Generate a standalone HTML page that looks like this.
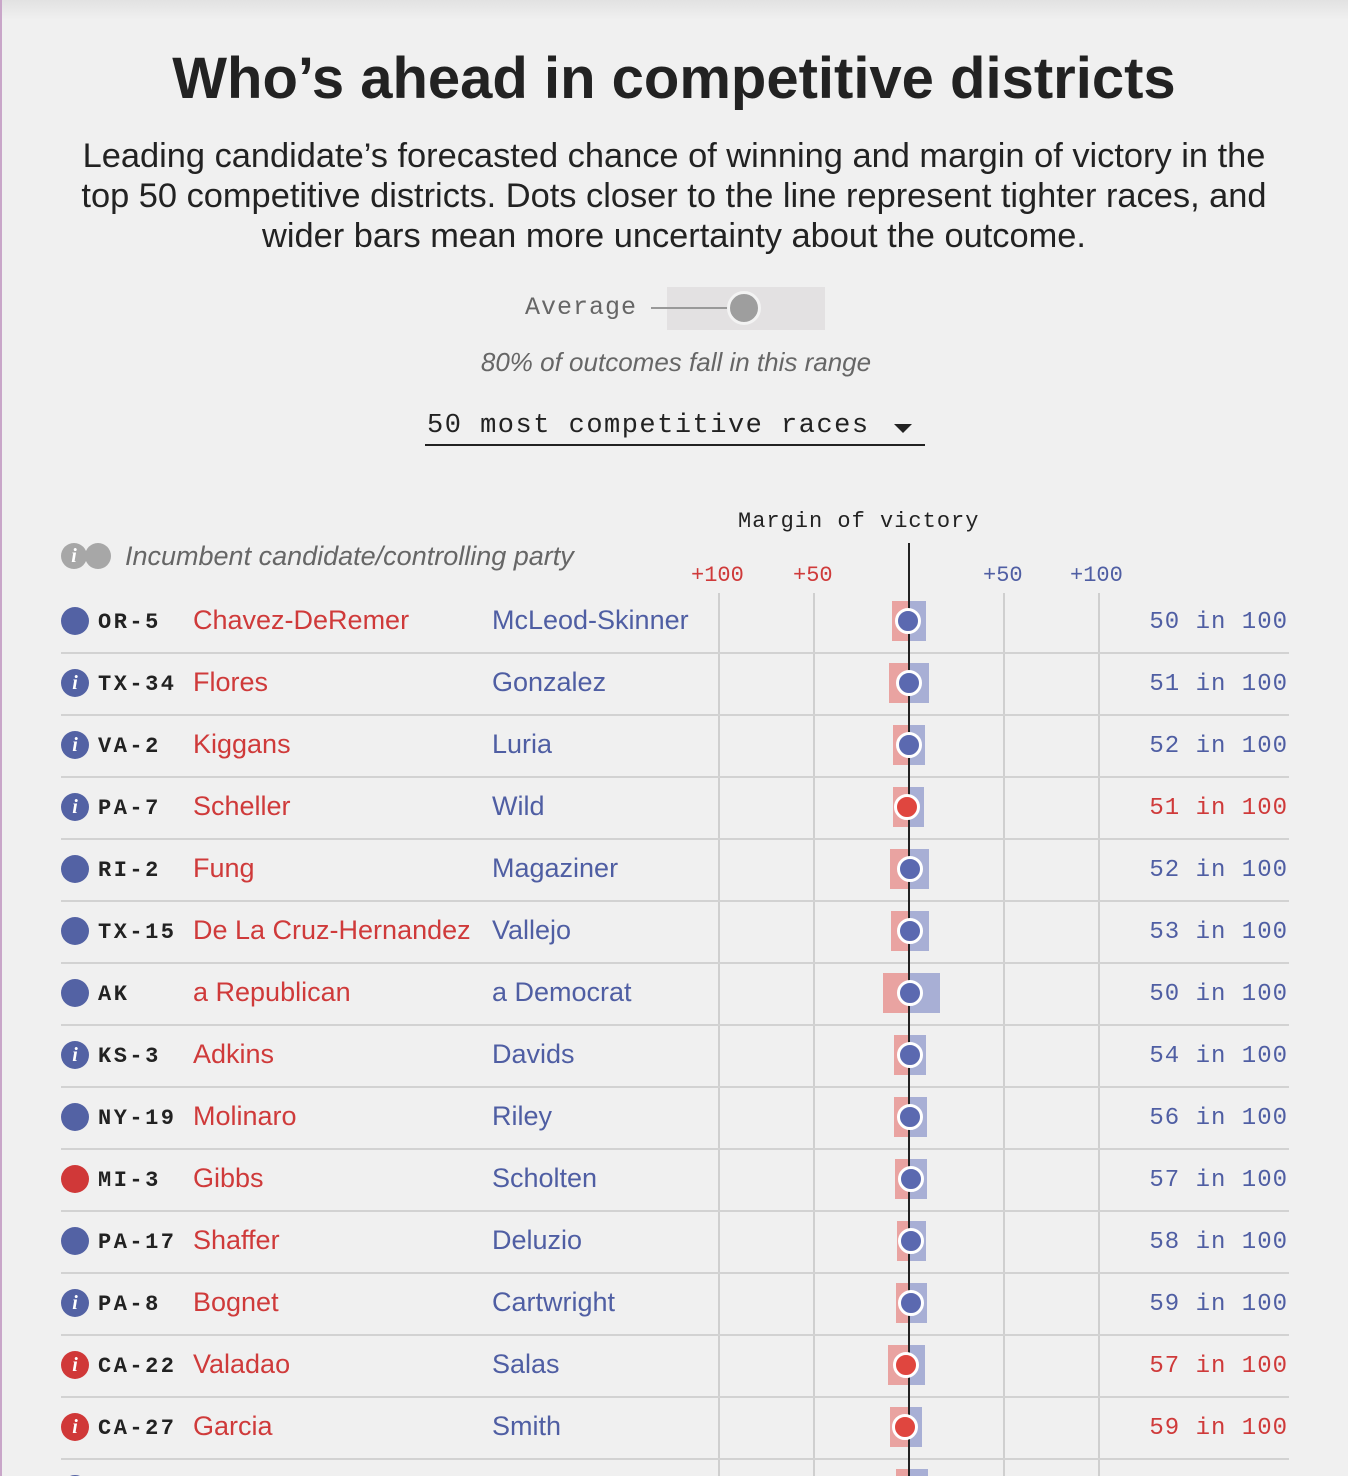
<!DOCTYPE html>
<html style="overflow:hidden;height:1476px"><head><meta charset="utf-8"><style>
body{margin:0;width:1348px;height:1476px;background:#f0f0f0;overflow:hidden;position:relative;font-family:"Liberation Sans",sans-serif}
.a{position:absolute;white-space:nowrap}
.mono{font-family:"Liberation Mono",monospace}
.d{font-family:"Liberation Mono",monospace;font-weight:bold;font-size:22px;color:#222;letter-spacing:2.5px}
.r{color:#cf3a3a;font-size:27px}
.b{color:#4f5ea3;font-size:27px}
.ic{position:absolute;width:28px;height:28px;border-radius:50%;color:#fff;font-style:italic;font-weight:bold;font-size:20px;text-align:center;line-height:28px;font-family:"Liberation Serif",serif}
.sep{position:absolute;left:61px;width:1228px;height:2px;background:#d2d2d2}
.bar{position:absolute;height:40px}
.dot{position:absolute;width:20px;height:20px;border-radius:50%;border:3px solid #fff}
.p{font-family:"Liberation Mono",monospace;font-size:24px;right:60px;letter-spacing:1px}
</style></head><body>
<div class="a" style="left:0;top:0;width:1348px;height:20px;background:linear-gradient(#e2e2e2,#f0f0f0)"></div>
<div class="a" style="left:0;top:0;width:2px;height:1476px;background:#c9a6c9"></div>
<div class="a" style="left:0;width:1348px;text-align:center;top:45px;font-size:58px;font-weight:bold;color:#222">Who’s ahead in competitive districts</div>
<div class="a" style="left:0;width:1348px;text-align:center;top:136px;font-size:34.4px;line-height:40px;color:#222;white-space:normal">Leading candidate’s forecasted chance of winning and margin of victory in the<br>top 50 competitive districts. Dots closer to the line represent tighter races, and<br>wider bars mean more uncertainty about the outcome.</div>
<div class="a" style="left:667px;top:287px;width:158px;height:43px;background:#e3e1e2"></div>
<div class="a mono" style="left:525px;top:293px;font-size:25px;color:#666;letter-spacing:1px">Average</div>
<div class="a" style="left:651px;top:307px;width:80px;height:2px;background:#999"></div>
<div class="a" style="left:727px;top:291px;width:28px;height:28px;border-radius:50%;background:#9e9e9e;border:3px solid #f3f3f3"></div>
<div class="a" style="left:0;width:1352px;text-align:center;top:347px;font-size:26px;font-style:italic;color:#666">80% of outcomes fall in this range</div>
<div class="a mono" style="left:427px;top:411px;font-size:27px;color:#222;letter-spacing:1.5px">50 most competitive races</div>
<div class="a" style="left:894px;top:424px;border-left:9px solid transparent;border-right:9px solid transparent;border-top:9px solid #222"></div>
<div class="a" style="left:425px;top:444px;width:500px;height:2px;background:#222"></div>
<div class="a mono" style="left:738px;top:509px;font-size:22px;color:#222;letter-spacing:1px">Margin of victory</div>
<div class="ic" style="left:61px;top:543px;background:#a7a7a7;width:26px;height:26px;line-height:26px;z-index:2">i</div>
<div class="ic" style="left:85px;top:543px;background:#a7a7a7;width:26px;height:26px"></div>
<div class="a" style="left:125px;top:541px;font-size:27px;font-style:italic;color:#666">Incumbent candidate/controlling party</div>
<div class="a mono" style="left:691px;top:563px;font-size:22px;color:#cf3a3a">+100</div>
<div class="a mono" style="left:793px;top:563px;font-size:22px;color:#cf3a3a">+50</div>
<div class="a mono" style="left:983px;top:563px;font-size:22px;color:#4f5ea3">+50</div>
<div class="a mono" style="left:1070px;top:563px;font-size:22px;color:#4f5ea3">+100</div>
<div class="a" style="left:718px;top:593px;width:2px;height:883px;background:#cfcfcf"></div>
<div class="a" style="left:813px;top:593px;width:2px;height:883px;background:#cfcfcf"></div>
<div class="a" style="left:1003px;top:593px;width:2px;height:883px;background:#cfcfcf"></div>
<div class="a" style="left:1098px;top:593px;width:2px;height:883px;background:#cfcfcf"></div>
<div id="rows"></div>
<div class="a" style="left:908px;top:543px;width:2px;height:933px;background:#222;z-index:1"></div>
<script>
var R=[["b",0,"OR-5","Chavez-DeRemer","McLeod-Skinner",892,926,908,"b","50"],
["b",1,"TX-34","Flores","Gonzalez",889,929,909,"b","51"],
["b",1,"VA-2","Kiggans","Luria",893,925,909,"b","52"],
["b",1,"PA-7","Scheller","Wild",893,924,907,"r","51"],
["b",0,"RI-2","Fung","Magaziner",890,929,910,"b","52"],
["b",0,"TX-15","De La Cruz-Hernandez","Vallejo",891,929,910,"b","53"],
["b",0,"AK","a Republican","a Democrat",883,940,910,"b","50"],
["b",1,"KS-3","Adkins","Davids",894,926,910,"b","54"],
["b",0,"NY-19","Molinaro","Riley",894,927,910,"b","56"],
["r",0,"MI-3","Gibbs","Scholten",895,927,911,"b","57"],
["b",0,"PA-17","Shaffer","Deluzio",897,926,911,"b","58"],
["b",1,"PA-8","Bognet","Cartwright",896,927,911,"b","59"],
["r",1,"CA-22","Valadao","Salas",888,925,906,"r","57"],
["r",1,"CA-27","Garcia","Smith",890,922,905,"r","59"],
["b",0,"","","",896,928,910,"b",""]];
var h="";
R.forEach(function(r,i){var c=621+62*i;
var ic=r[0]=="b"?"#5362a4":"#d03838";
h+='<div class="ic" style="left:61px;top:'+(c-14)+'px;background:'+ic+'">'+(r[1]?'i':'')+'</div>';
h+='<div class="a d" style="left:98px;top:'+(c-11)+'px">'+r[2]+'</div>';
h+='<div class="a r" style="left:193px;top:'+(c-16)+'px">'+r[3]+'</div>';
h+='<div class="a b" style="left:492px;top:'+(c-16)+'px">'+r[4]+'</div>';
h+='<div class="bar" style="left:'+r[5]+'px;width:'+(909-r[5])+'px;top:'+(c-20)+'px;background:#e9a3a1"></div>';
h+='<div class="bar" style="left:909px;width:'+(r[6]-909)+'px;top:'+(c-20)+'px;background:#a8afd5"></div>';
h+='<div class="dot" style="left:'+(r[7]-13)+'px;top:'+(c-13)+'px;background:'+(r[8]=="b"?"#5b69b0":"#e0463f")+';z-index:3"></div>';
if(r[9])h+='<div class="a p" style="top:'+(c-12)+'px;color:'+(r[8]=="b"?"#4f5ea3":"#cf3a3a")+'">'+r[9]+' in 100</div>';
if(i<14)h+='<div class="sep" style="top:'+(c+31)+'px"></div>';
});
document.getElementById("rows").innerHTML=h;
</script>
</body></html>
